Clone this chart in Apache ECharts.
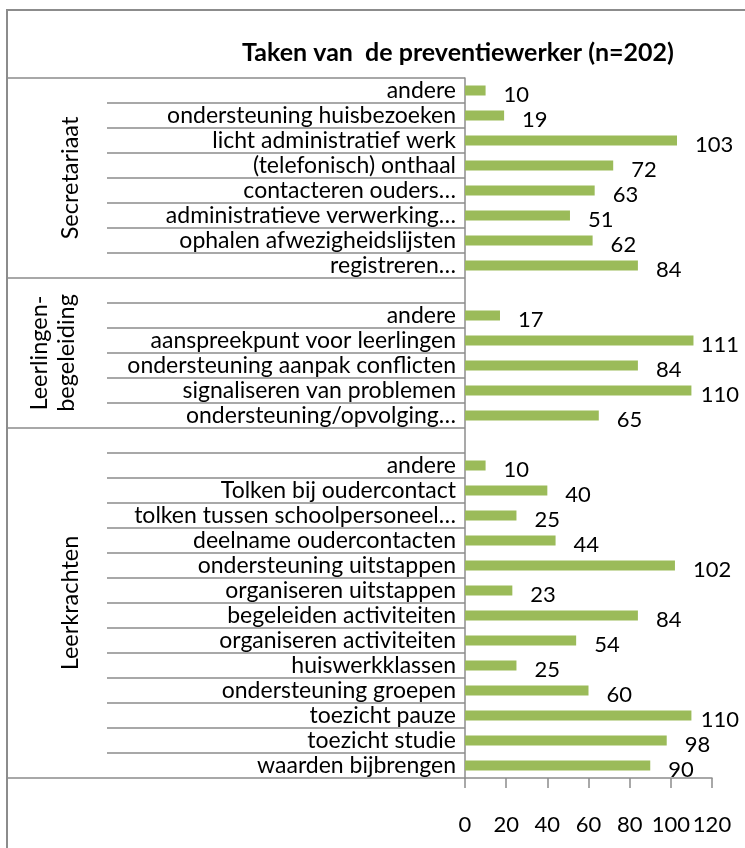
<!DOCTYPE html>
<html><head><meta charset="utf-8">
<script src="https://cdn.jsdelivr.net/npm/echarts@6/dist/echarts.min.js"></script>
<style>html,body{margin:0;padding:0;background:#fff}#c{width:745px;height:848px}</style>
</head><body><div id="c"></div>
<script>
const categories = ['andere','ondersteuning huisbezoeken','licht administratief werk','(telefonisch) onthaal','contacteren ouders…','administratieve verwerking…','ophalen afwezigheidslijsten','registreren…','','andere','aanspreekpunt voor leerlingen','ondersteuning aanpak conflicten','signaliseren van problemen','ondersteuning/opvolging…','','andere','Tolken bij oudercontact','tolken tussen schoolpersoneel…','deelname oudercontacten','ondersteuning uitstappen','organiseren uitstappen','begeleiden activiteiten','organiseren activiteiten','huiswerkklassen','ondersteuning groepen','toezicht pauze','toezicht studie','waarden bijbrengen'];
const values = [10,19,103,72,63,51,62,84,null,17,111,84,110,65,null,10,40,25,44,102,23,84,54,25,60,110,98,90];
const groups = ['Secretariaat','Leerlingen-\nbegeleiding','Leerkrachten'];
const groupStart = [0,8,14];
const groupEnd = [7,13,27];
const xMin = 0, xMax = 120, xStep = 20;
const titleText = 'Taken van  de preventiewerker (n=202)';

const FONT = 'Lato';
const GRAY = '#8c8c8c';
const chart = echarts.init(document.getElementById('c'), null, {renderer:'canvas'});
chart.setOption({
  animation:false,
  backgroundColor:'#fff',
  title:{text:titleText,left:453,top:35,textAlign:'center',
    textStyle:{fontFamily:FONT,fontSize:25,fontWeight:'bold',color:'#000'}},
  grid:{left:465,top:78,right:33,bottom:70,containLabel:false,outerBoundsMode:'none'},
  xAxis:{type:'value',min:xMin,max:xMax,interval:xStep,
    axisLine:{show:true,lineStyle:{color:GRAY,width:1.5}},
    axisTick:{show:true,length:10,inside:false,lineStyle:{color:GRAY,width:1.5}},
    splitLine:{show:false},
    axisLabel:{fontFamily:FONT,fontSize:22,color:'#000',margin:36}},
  yAxis:[{type:'category',data:categories,inverse:true,
    axisLine:{show:true,lineStyle:{color:GRAY,width:1.5}},
    axisTick:{show:true,length:358,interval:0,lineStyle:{color:GRAY,width:1.5}},
    axisLabel:{fontFamily:FONT,fontSize:23,color:'#000',margin:9,interval:0}},
   {type:'category',data:categories,inverse:true,position:'left',
    axisLine:{show:false},axisLabel:{show:false},
    axisTick:{show:true,length:458,interval:function(i){return groupStart.indexOf(i)>=0;},lineStyle:{color:GRAY,width:1.5}}}],
  series:[{type:'bar',data:values,barWidth:10,yAxisIndex:0,
    itemStyle:{color:'#9BBB59'},
    label:{show:true,position:'right',distance:18,fontFamily:FONT,fontSize:22,color:'#000'},
    labelLayout:function(p){
      const r = p.labelRect, b = p.rect;
      const x = Math.min(b.x + b.width + 18, 739 - r.width);
      return {x: x, y: b.y + b.height/2 + 4, align:'left', verticalAlign:'middle'};
    }}]
});
const g = [{type:'rect',shape:{x:7,y:10,width:800,height:900},style:{fill:'none',stroke:GRAY,lineWidth:2},silent:true}];
groups.forEach((name,i)=>{
  const y0 = chart.convertToPixel({yAxisIndex:0}, groupStart[i]);
  const y1 = chart.convertToPixel({yAxisIndex:0}, groupEnd[i]);
  g.push({type:'text',x:name.indexOf('\n')>=0?53:70,y:(y0+y1)/2,rotation:Math.PI/2,
    style:{text:name,fontFamily:FONT,fontSize:23.5,fill:'#000',align:'center',verticalAlign:'middle',lineHeight:27}});
});
chart.setOption({graphic:g});
</script></body></html>
